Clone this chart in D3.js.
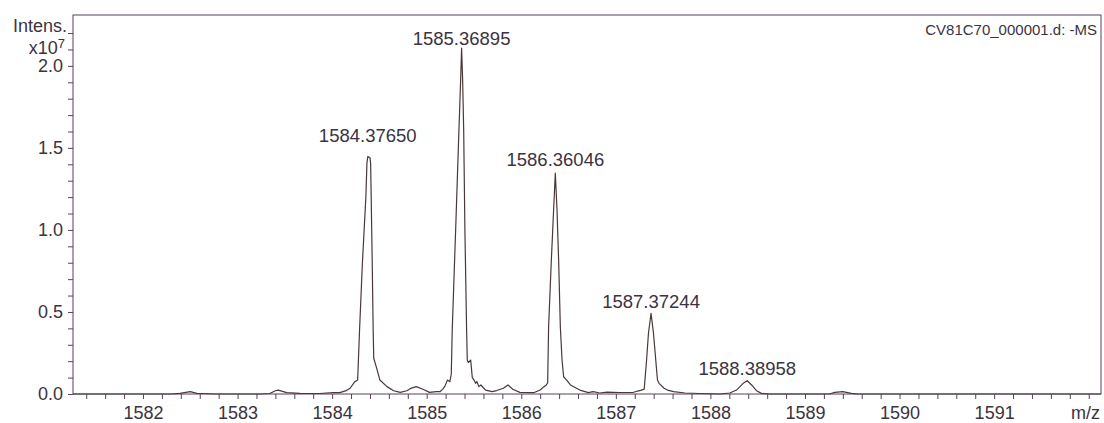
<!DOCTYPE html>
<html>
<head>
<meta charset="utf-8">
<style>
body {
  margin: 0;
  background: #fff;
  font-family: "Liberation Sans", Arial, Helvetica, sans-serif;
}
svg { display: block; }
.axis text { font-size: 18px; fill: #3b3340; }
.axis line { stroke: #5b3f5e; }
.trace { fill: none; stroke: #4a3838; stroke-width: 1.2px; stroke-linejoin: round; }
.peak-label { font-size: 18.5px; fill: #3b3340; text-anchor: middle; }
</style>
<script src="https://cdn.jsdelivr.net/npm/d3@7/dist/d3.min.js"></script>
</head>
<body>
<script>
// profile spectrum: m/z and intensity (x10^7)
var mz = [
  1581.26, 1582.30, 1582.39, 1582.50, 1582.57, 1582.64, 1582.76, 1583.24, 1583.34, 1583.40,
  1583.43, 1583.52, 1583.66, 1583.87, 1584.01, 1584.08, 1584.15, 1584.19, 1584.24, 1584.27,
  1584.29, 1584.32, 1584.357, 1584.368, 1584.377, 1584.40, 1584.407, 1584.413, 1584.424, 1584.434,
  1584.44, 1584.47, 1584.49, 1584.505, 1584.58, 1584.65, 1584.72, 1584.79, 1584.83, 1584.89,
  1584.96, 1585.03, 1585.10, 1585.14, 1585.17, 1585.19, 1585.22, 1585.245, 1585.26, 1585.27,
  1585.306, 1585.341, 1585.359, 1585.369, 1585.380, 1585.391, 1585.404, 1585.422, 1585.429, 1585.441,
  1585.465, 1585.482, 1585.50, 1585.517, 1585.53, 1585.552, 1585.573, 1585.623, 1585.693, 1585.74,
  1585.81, 1585.86, 1585.91, 1585.985, 1586.13, 1586.20, 1586.24, 1586.26, 1586.279, 1586.289,
  1586.318, 1586.342, 1586.360, 1586.378, 1586.395, 1586.413, 1586.431, 1586.448, 1586.48, 1586.52,
  1586.62, 1586.71, 1586.76, 1586.83, 1586.905, 1587.04, 1587.18, 1587.23, 1587.27, 1587.30,
  1587.325, 1587.345, 1587.372, 1587.398, 1587.422, 1587.44, 1587.457, 1587.51, 1587.546, 1587.61,
  1587.73, 1587.89, 1588.10, 1588.205, 1588.276, 1588.346, 1588.390, 1588.435, 1588.487, 1588.54,
  1588.63, 1589.26, 1589.315, 1589.40, 1589.49, 1589.56, 1592.13
];
var intensity = [
  0, 0, 0.004, 0.014, 0.004, 0.003, 0, 0, 0.003, 0.020,
  0.024, 0.008, 0.004, 0.003, 0.008, 0.008, 0.021, 0.035, 0.075, 0.085,
  0.390, 0.797, 1.203, 1.407, 1.447, 1.441, 1.407, 1.203, 0.797, 0.390,
  0.218, 0.159, 0.116, 0.085, 0.045, 0.020, 0.010, 0.020, 0.034, 0.045,
  0.029, 0.010, 0.014, 0.014, 0.030, 0.045, 0.085, 0.075, 0.122, 0.390,
  1.000, 1.610, 1.915, 2.108, 1.915, 1.610, 1.000, 0.390, 0.207, 0.192,
  0.207, 0.101, 0.085, 0.065, 0.076, 0.045, 0.055, 0.024, 0.014, 0.021,
  0.035, 0.055, 0.029, 0.010, 0.008, 0.024, 0.045, 0.052, 0.067, 0.410,
  0.817, 1.122, 1.346, 1.122, 0.817, 0.410, 0.207, 0.105, 0.085, 0.055,
  0.024, 0.008, 0.014, 0.006, 0.012, 0.009, 0.009, 0.018, 0.024, 0.030,
  0.207, 0.370, 0.492, 0.370, 0.207, 0.085, 0.065, 0.035, 0.024, 0.014,
  0.006, 0.003, 0, 0.006, 0.024, 0.065, 0.081, 0.055, 0.020, 0.004,
  0, 0, 0.010, 0.014, 0.004, 0, 0
];

// labelled peaks
var peakMz = [1584.37650, 1585.36895, 1586.36046, 1587.37244, 1588.38958];
var peakIntensity = [1.447, 2.108, 1.346, 0.492, 0.081];
var peakLabels = ["1584.37650", "1585.36895", "1586.36046", "1587.37244", "1588.38958"];

var yMajor = [0.0, 0.5, 1.0, 1.5, 2.0];
var xMajor = [1582, 1583, 1584, 1585, 1586, 1587, 1588, 1589, 1590, 1591];

var width = 1104, height = 423;
var plotLeft = 73, plotRight = 1101, plotTop = 15, plotBottom = 394;

var svg = d3.select("body").append("svg")
  .attr("width", width)
  .attr("height", height);

var x = d3.scaleLinear().domain([1581.26, 1592.13]).range([plotLeft, plotRight]);
var y = d3.scaleLinear().domain([0, 2.31]).range([plotBottom, plotTop]);

// frame
svg.append("rect")
  .attr("x", plotLeft).attr("y", plotTop)
  .attr("width", plotRight - plotLeft).attr("height", plotBottom - plotTop)
  .attr("fill", "none")
  .attr("stroke", "#5b3f5e")
  .attr("stroke-width", 1);

/* ------- AXES -------*/
var yTicks = d3.range(0, 23).map(function(i) { return i / 10; });
var yAxis = d3.axisLeft(y)
  .tickValues(yTicks)
  .tickSize(5)
  .tickSizeOuter(0)
  .tickPadding(5)
  .tickFormat(function(d) {
    return yMajor.some(function(m) { return Math.abs(m - d) < 1e-6; }) ? d3.format(".1f")(d) : "";
  });

svg.append("g")
  .attr("class", "axis")
  .attr("transform", "translate(" + plotLeft + ",0)")
  .call(yAxis)
  .call(function(g) { g.select(".domain").remove(); });

var xTicks = d3.range(7907, 7961).map(function(i) { return i / 5; });
var xAxis = d3.axisBottom(x)
  .tickValues(xTicks)
  .tickSize(5)
  .tickSizeOuter(0)
  .tickPadding(7)
  .tickFormat(function(d) {
    return xMajor.some(function(m) { return Math.abs(m - d) < 1e-6; }) ? d3.format("d")(d) : "";
  });

svg.append("g")
  .attr("class", "axis")
  .attr("transform", "translate(0," + plotBottom + ")")
  .call(xAxis)
  .call(function(g) { g.select(".domain").remove(); });

// axis titles
svg.append("text")
  .attr("x", 67).attr("y", 32)
  .attr("text-anchor", "end")
  .style("font-size", "18px").style("fill", "#3b3340")
  .text("Intens.");

var unit = svg.append("text")
  .attr("x", 65).attr("y", 54)
  .attr("text-anchor", "end")
  .style("font-size", "18px").style("fill", "#3b3340");
unit.append("tspan").text("x10");
unit.append("tspan").attr("dy", -6).style("font-size", "13px").text("7");

svg.append("text")
  .attr("x", plotRight - 1).attr("y", 419)
  .attr("text-anchor", "end")
  .style("font-size", "18px").style("fill", "#3b3340")
  .text("m/z");

svg.append("text")
  .attr("x", 1097).attr("y", 35)
  .attr("text-anchor", "end")
  .style("font-size", "15px").style("fill", "#3b3340")
  .text("CV81C70_000001.d: -MS");

/* ------- TRACE -------*/
var line = d3.line()
  .x(function(d, i) { return x(mz[i]); })
  .y(function(d, i) { return y(intensity[i]); });

svg.append("path")
  .datum(mz)
  .attr("class", "trace")
  .attr("d", line);

/* ------- PEAK LABELS -------*/
var labelGap = [15, 3, 7, 5, 6];

svg.append("g").selectAll("text")
  .data(peakLabels)
  .enter().append("text")
  .attr("class", "peak-label")
  .attr("x", function(d, i) { return x(peakMz[i]); })
  .attr("y", function(d, i) { return y(peakIntensity[i]) - labelGap[i]; })
  .text(function(d) { return d; });
</script>
</body>
</html>
